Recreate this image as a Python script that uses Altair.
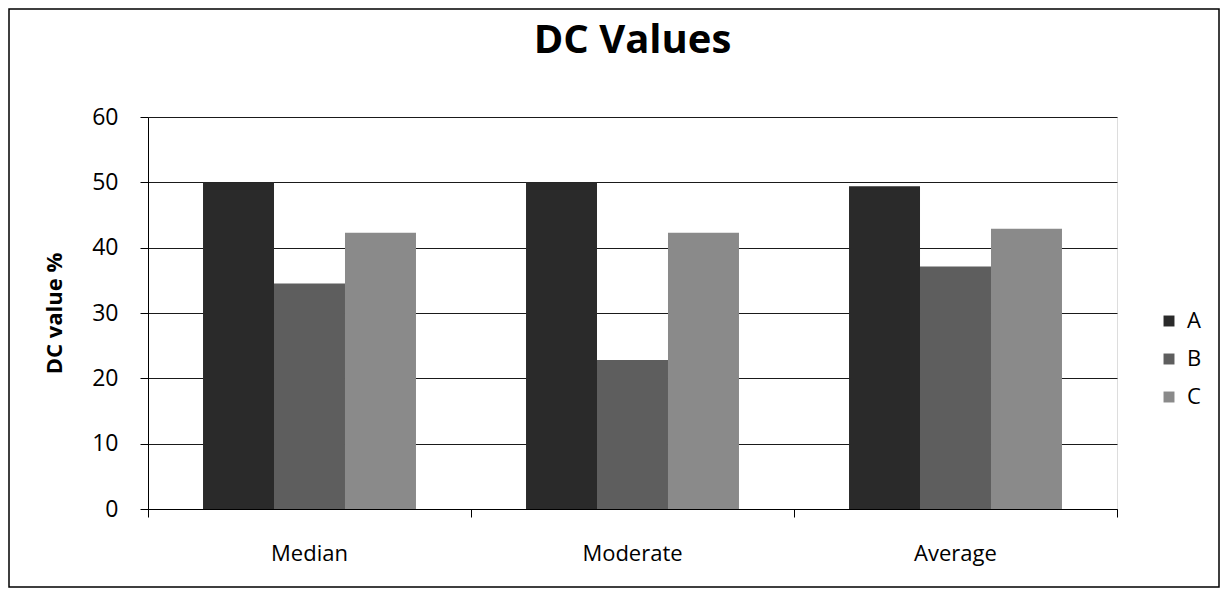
import altair as alt
import pandas as pd

categories = ["Median", "Moderate", "Average"]
series = ["A", "B", "C"]
a_vals = [50.0, 50.0, 49.4]
b_vals = [34.5, 22.8, 37.1]
c_vals = [42.3, 42.3, 42.9]
y_ticks = [0, 10, 20, 30, 40, 50, 60]
colors = ["#2a2a2a", "#5e5e5e", "#8a8a8a"]

rows = []
for i, cat in enumerate(categories):
    for s, vals in zip(series, [a_vals, b_vals, c_vals]):
        rows.append({"category": cat, "series": s, "value": vals[i]})
df = pd.DataFrame(rows)

FONT = "Open Sans"
W, H = 969, 392
PAD = {"left": 140, "top": 109, "right": 104, "bottom": 80}

bars = alt.Chart(df).mark_bar().encode(
    x=alt.X("category:N", sort=categories,
            scale=alt.Scale(paddingInner=0, paddingOuter=0),
            axis=alt.Axis(title=None, labelAngle=0, labelFont=FONT, labelFontSize=22,
                          labelColor="black", labelPadding=26, domainColor="black",
                          tickColor="black", tickSize=8, bandPosition=1, tickExtra=True,
                          grid=False)),
    xOffset=alt.XOffset("series:N", sort=series,
                        scale=alt.Scale(paddingInner=0, paddingOuter=0.775)),
    y=alt.Y("value:Q", scale=alt.Scale(domain=[0, 60], nice=False),
            axis=alt.Axis(values=y_ticks, title="DC value %", labelFont=FONT,
                          labelFontSize=23, labelColor="black", labelPadding=22,
                          tickSize=8, tickColor="black", domainColor="black",
                          gridColor="#1a1a1a", gridWidth=1.2,
                          titleFont=FONT, titleFontSize=22, titleFontWeight="bold",
                          titleColor="black", titleAngle=270, titleX=-94, titleY=196,
                          titleAlign="center", titleBaseline="middle")),
    color=alt.Color("series:N", sort=series,
                    scale=alt.Scale(domain=series, range=colors),
                    legend=alt.Legend(title=None, orient="none", legendX=1010, legendY=193,
                                      symbolType="square", symbolSize=120,
                                      symbolStrokeWidth=0, labelFont=FONT,
                                      labelFontSize=22, labelColor="black",
                                      rowPadding=16, labelOffset=7)),
)

border = alt.Chart(pd.DataFrame({"k": [0]})).mark_rect(
    filled=False, stroke="black", strokeWidth=1.5, clip=False
).encode(
    x=alt.value(-139), x2=alt.value(W + PAD["right"] - 2),
    y=alt.value(-108), y2=alt.value(H + PAD["bottom"] - 2),
)

chart = alt.layer(bars, border).properties(
    width=W, height=H,
    autosize=alt.AutoSizeParams(type="none"),
    padding=PAD,
    title=alt.Title("DC Values", font=FONT, fontSize=40, fontWeight="bold",
                    color="black", anchor="middle", baseline="alphabetic",
                    offset=-85, frame="group"),
).configure_view(strokeWidth=0).configure(background="white")

chart.save("out.html", embed_options={"renderer": "svg", "actions": False})
